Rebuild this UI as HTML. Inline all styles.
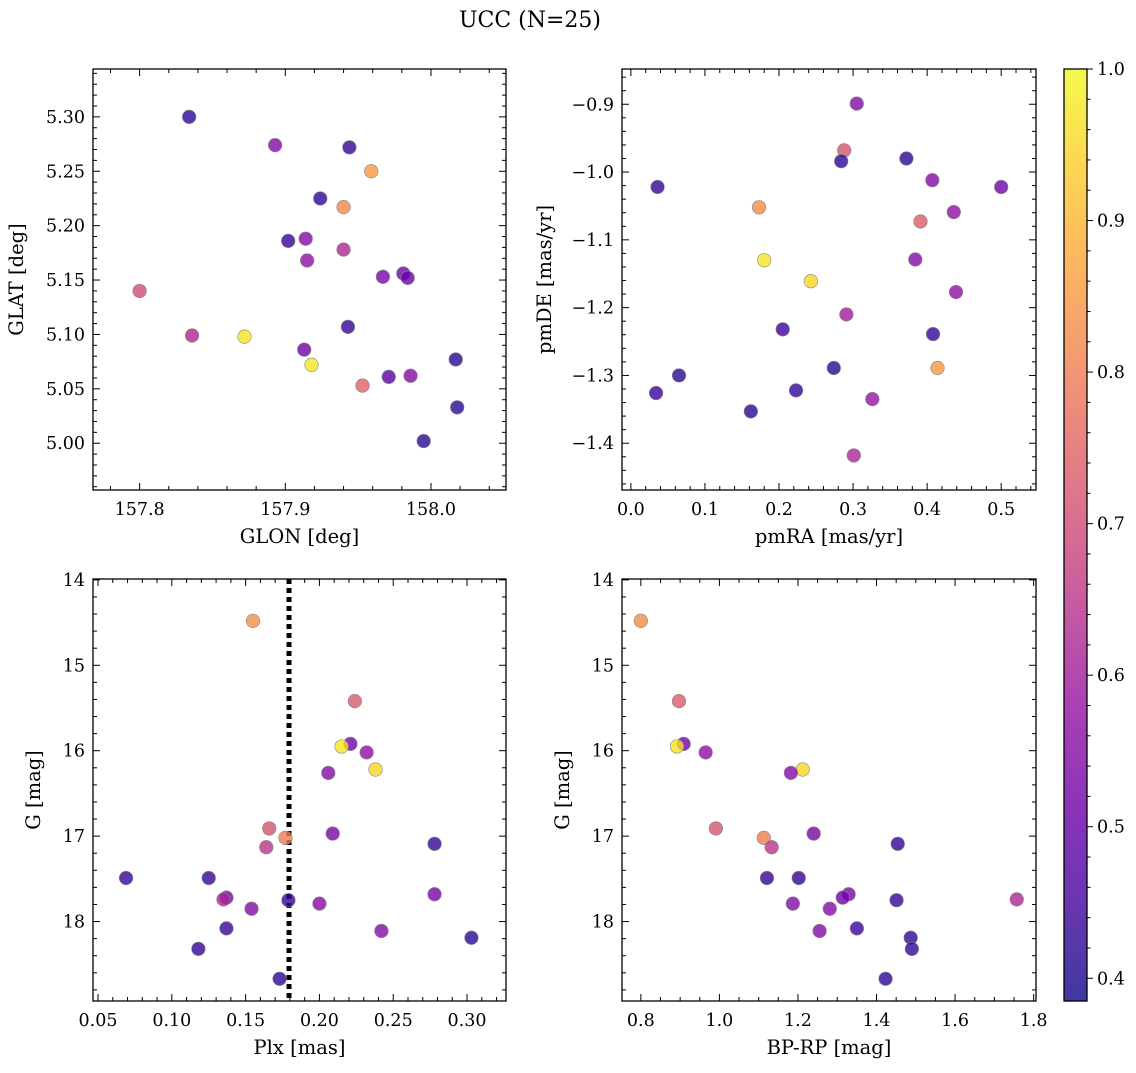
<!DOCTYPE html>
<html><head><meta charset="utf-8"><style>
html,body{margin:0;padding:0;background:#fff;}
svg text{font-family:"DejaVu Serif","Liberation Serif",serif;fill:#000;}
</style></head><body>
<svg id="fig" width="1136" height="1068" viewBox="0 0 1136 1068" xmlns="http://www.w3.org/2000/svg">
<text x="530" y="27" font-size="22" text-anchor="middle">UCC (N=25)</text>
</svg>
<script>
// Panel 1: GLON/GLAT
const glon=[157.834,157.893,157.944,157.959,157.924,157.940,157.902,157.914,157.940,157.915,157.967,157.981,157.984,157.800,157.836,157.872,157.943,157.913,157.918,157.953,157.971,157.986,158.017,158.018,157.995];
const glat=[5.300,5.274,5.272,5.250,5.225,5.217,5.186,5.188,5.178,5.168,5.153,5.156,5.152,5.140,5.099,5.098,5.107,5.086,5.072,5.053,5.061,5.062,5.077,5.033,5.002];
const probA=[0.42,0.55,0.43,0.85,0.42,0.82,0.43,0.55,0.62,0.57,0.53,0.52,0.50,0.70,0.62,0.97,0.43,0.52,0.97,0.75,0.48,0.55,0.42,0.42,0.42];
// Panel 2: pmRA/pmDE
const pmra=[0.305,0.288,0.284,0.372,0.407,0.500,0.036,0.173,0.436,0.391,0.384,0.180,0.243,0.439,0.291,0.205,0.408,0.223,0.034,0.065,0.274,0.414,0.326,0.162,0.301];
const pmde=[-0.899,-0.968,-0.984,-0.980,-1.012,-1.022,-1.022,-1.052,-1.059,-1.073,-1.129,-1.130,-1.161,-1.177,-1.210,-1.232,-1.239,-1.322,-1.326,-1.300,-1.289,-1.289,-1.335,-1.353,-1.418];
const probB=[0.55,0.72,0.42,0.42,0.55,0.52,0.43,0.83,0.57,0.74,0.55,0.97,0.95,0.57,0.60,0.44,0.43,0.43,0.44,0.42,0.42,0.85,0.58,0.42,0.62];
// Panels 3 & 4: Plx, BP-RP vs G
const plx=[0.155,0.224,0.221,0.215,0.232,0.238,0.206,0.166,0.209,0.177,0.164,0.278,0.069,0.125,0.278,0.137,0.135,0.154,0.179,0.200,0.137,0.242,0.303,0.118,0.173];
const bprp=[0.800,0.897,0.909,0.892,0.965,1.212,1.182,0.991,1.240,1.113,1.133,1.454,1.121,1.202,1.329,1.314,1.757,1.281,1.451,1.187,1.350,1.255,1.487,1.490,1.423];
const gmag=[14.48,15.42,15.92,15.95,16.02,16.22,16.26,16.91,16.97,17.02,17.13,17.09,17.49,17.49,17.68,17.72,17.74,17.85,17.75,17.79,18.08,18.11,18.19,18.32,18.67];
const probC=[0.83,0.73,0.52,0.97,0.57,0.95,0.55,0.72,0.53,0.80,0.65,0.43,0.43,0.43,0.53,0.52,0.62,0.55,0.43,0.55,0.44,0.55,0.42,0.43,0.42];
const plxLine=0.1794;
const cbTicks=[0.4,0.5,0.6,0.7,0.8,0.9,1.0];
const pmin=0.385,pmax=1.0;

const NS="http://www.w3.org/2000/svg";
const svg=document.getElementById('fig');
function mk(tag,attrs,parent){const e=document.createElementNS(NS,tag);for(const k in attrs)e.setAttribute(k,attrs[k]);(parent||svg).appendChild(e);return e;}
const stops=[[0,'#0d0887'],[0.1,'#41049d'],[0.2,'#6a00a8'],[0.3,'#8f0da4'],[0.4,'#b12a90'],[0.5,'#cc4778'],[0.6,'#e16462'],[0.7,'#f2844b'],[0.8,'#fca636'],[0.9,'#fcce25'],[1,'#f0f921']];
function hex(h){return[parseInt(h.substr(1,2),16),parseInt(h.substr(3,2),16),parseInt(h.substr(5,2),16)];}
function plasma(t){t=Math.max(0,Math.min(1,t));for(let i=0;i<stops.length-1;i++){if(t<=stops[i+1][0]){const f=(t-stops[i][0])/(stops[i+1][0]-stops[i][0]);const a=hex(stops[i][1]),b=hex(stops[i+1][1]);return 'rgb('+a.map((v,j)=>Math.round(v+(b[j]-v)*f)).join(',')+')';}}return stops[10][1];}

function panel(o){
  const g=mk('g',{});
  
  
  const X=v=>o.x0+(v-o.xmin)/(o.xmax-o.xmin)*(o.x1-o.x0);
  const Y=o.yinv?(v=>o.y0+(v-o.ymin)/(o.ymax-o.ymin)*(o.y1-o.y0)):(v=>o.y1-(v-o.ymin)/(o.ymax-o.ymin)*(o.y1-o.y0));
  const eps=1e-9;
  function ticks(min,max,step,sub,isX,labels,fmt){
    const mstep=step/sub;
    for(let v=Math.ceil((min-eps)/mstep)*mstep;v<=max+eps;v+=mstep){
      const major=Math.abs(v/step-Math.round(v/step))<1e-6;
      const L=major?7:4;
      if(isX){const p=X(v);mk('line',{x1:p,x2:p,y1:o.y1,y2:o.y1-L,stroke:'#000','stroke-width':1},g);mk('line',{x1:p,x2:p,y1:o.y0,y2:o.y0+L,stroke:'#000','stroke-width':1},g);}
      else{const p=Y(v);mk('line',{x1:o.x0,x2:o.x0+L,y1:p,y2:p,stroke:'#000','stroke-width':1},g);mk('line',{x1:o.x1,x2:o.x1-L,y1:p,y2:p,stroke:'#000','stroke-width':1},g);}
    }
    labels.forEach(v=>{
      let t;
      if(isX){t=mk('text',{x:X(v),y:o.y1+25,'font-size':17.5,'text-anchor':'middle'},g);}
      else{t=mk('text',{x:o.x0-8,y:Y(v)+6,'font-size':17.5,'text-anchor':'end'},g);}
      t.textContent=fmt(v);
      
      
    });
  }
  ticks(o.xmin,o.xmax,o.xstep,o.xsub,true,o.xlabels,o.xfmt);
  ticks(o.ymin,o.ymax,o.ystep,o.ysub,false,o.ylabels,o.yfmt);
  if(o.vline!==undefined){const l=mk('line',{x1:X(o.vline),x2:X(o.vline),y1:o.y0,y2:o.y1,stroke:'#000','stroke-width':5,'stroke-dasharray':'5,4'},g);
    
    }
  o.xs.forEach((v,i)=>{
    const c=mk('circle',{cx:X(v),cy:Y(o.ys[i]),r:6.8,fill:plasma((o.ps[i]-pmin)/(pmax-pmin)),'fill-opacity':0.8,stroke:'#888','stroke-width':0.6},g);
    
    
  });
  const fr=mk('rect',{x:o.x0,y:o.y0,width:o.x1-o.x0,height:o.y1-o.y0,fill:'none',stroke:'#000','stroke-width':1.3},g);
  
  
  const xl=mk('text',{x:(o.x0+o.x1)/2,y:o.y1+53,'font-size':19.5,'text-anchor':'middle'},g);
  xl.textContent=o.xlab;
  
  
  const ylx=o.ylx,yly=(o.y0+o.y1)/2;
  const yl=mk('text',{x:ylx,y:yly,'font-size':19.5,'text-anchor':'middle',transform:'rotate(-90 '+ylx+' '+yly+')'},g);
  yl.textContent=o.ylab;
  
  
}
const f1=v=>v.toFixed(1),f2=v=>v.toFixed(2),f0=v=>v.toFixed(0),fm=v=>(v<0?'\u2212':'')+Math.abs(v).toFixed(1);
panel({name:'glon-glat-panel',x0:93,x1:506,y0:69,y1:490,xmin:157.768,xmax:158.0515,ymin:4.957,ymax:5.344,xstep:0.1,xsub:5,ystep:0.05,ysub:5,
  xlabels:[157.8,157.9,158.0],xfmt:f1,ylabels:[5.0,5.05,5.1,5.15,5.2,5.25,5.3],yfmt:f2,xs:glon,ys:glat,ps:probA,xlab:'GLON [deg]',ylab:'GLAT [deg]',ylx:23});
panel({name:'pm-panel',x0:622,x1:1036,y0:69,y1:490,xmin:-0.012,xmax:0.547,ymin:-1.469,ymax:-0.848,xstep:0.1,xsub:5,ystep:0.1,ysub:5,
  xlabels:[0,0.1,0.2,0.3,0.4,0.5],xfmt:f1,ylabels:[-1.4,-1.3,-1.2,-1.1,-1.0,-0.9],yfmt:fm,xs:pmra,ys:pmde,ps:probB,xlab:'pmRA [mas/yr]',ylab:'pmDE [mas/yr]',ylx:551});
panel({name:'plx-g-panel',x0:93,x1:506,y0:579,y1:1001,xmin:0.0466,xmax:0.3264,ymin:13.99,ymax:18.93,yinv:true,xstep:0.05,xsub:5,ystep:1,ysub:5,
  xlabels:[0.05,0.1,0.15,0.2,0.25,0.3],xfmt:f2,ylabels:[14,15,16,17,18],yfmt:f0,xs:plx,ys:gmag,ps:probC,xlab:'Plx [mas]',ylab:'G [mag]',ylx:40,vline:plxLine});
panel({name:'cmd-panel',x0:622,x1:1036,y0:579,y1:1001,xmin:0.752,xmax:1.806,ymin:13.99,ymax:18.93,yinv:true,xstep:0.2,xsub:4,ystep:1,ysub:5,
  xlabels:[0.8,1.0,1.2,1.4,1.6,1.8],xfmt:f1,ylabels:[14,15,16,17,18],yfmt:f0,xs:bprp,ys:gmag,ps:probC,xlab:'BP-RP [mag]',ylab:'G [mag]',ylx:569});

const cb=mk('g',{});


const defs=mk('defs',{});
const grad=mk('linearGradient',{id:'cbg',x1:0,y1:1,x2:0,y2:0},defs);
for(let i=0;i<=20;i++){const t=i/20;mk('stop',{offset:t,'stop-color':plasma(t)},grad);}
const cy0=69,cy1=1001,cx0=1064,cx1=1087;
mk('rect',{x:cx0,y:cy0,width:cx1-cx0,height:cy1-cy0,fill:'url(#cbg)','fill-opacity':0.8},cb);
const CY=v=>cy1-(v-pmin)/(pmax-pmin)*(cy1-cy0);
for(let v=0.4;v<=1.0001;v+=0.02){const major=Math.abs(v*10-Math.round(v*10))<1e-6;mk('line',{x1:cx1,x2:cx1+(major?6:3.5),y1:CY(v),y2:CY(v),stroke:'#000','stroke-width':1},cb);}
cbTicks.forEach(v=>{const t=mk('text',{x:cx1+10,y:CY(v)+6,'font-size':17.5},cb);t.textContent=v.toFixed(1);
  
  });
mk('rect',{x:cx0,y:cy0,width:cx1-cx0,height:cy1-cy0,fill:'none',stroke:'#000','stroke-width':1.3},cb);
</script>
</body></html>
